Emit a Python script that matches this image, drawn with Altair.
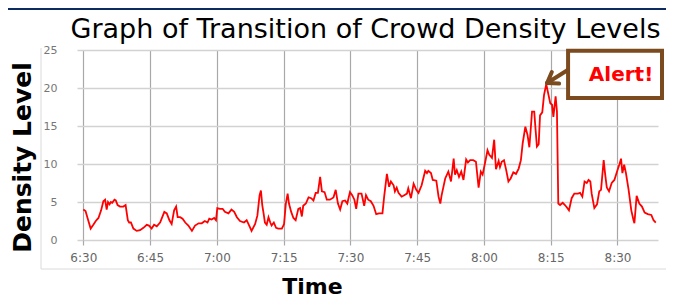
import altair as alt
import pandas as pd

# minutes after 6:30 and the density level
minutes = [0.0, 0.5, 1.0, 1.65, 2.25, 2.8, 3.4, 4.0, 4.5, 4.9, 5.25, 5.55, 5.9, 6.2, 6.5, 7.0, 7.3, 7.7, 8.25, 9.0,
           9.5, 10.0, 10.3, 10.7, 11.25, 12.0, 12.75, 13.5, 14.25, 14.75, 15.35, 15.9, 16.5, 17.25, 18.2, 18.75, 19.35, 19.85, 20.4, 20.85,
           21.2, 21.75, 22.3, 22.9, 23.6, 24.4, 25.1, 25.9, 26.6, 27.3, 27.9, 28.3, 28.8, 29.4, 29.8, 30.1, 30.7, 31.3, 31.8, 32.6,
           33.3, 33.9, 34.5, 35.2, 36.1, 36.7, 37.5, 37.8, 38.6, 39.1, 39.6, 39.9, 40.2, 40.5, 40.8, 41.2, 41.6, 42.0, 42.3, 42.8,
           43.3, 43.8, 44.6, 45.1, 45.5, 45.9, 46.2, 46.7, 47.2, 47.7, 48.3, 48.7, 49.1, 49.4, 50.0, 50.6, 51.2, 51.7, 52.2, 52.7,
           53.2, 53.6, 54.2, 54.7, 55.4, 56.2, 56.7, 57.2, 57.7, 58.2, 58.8, 59.3, 59.9, 60.4, 60.9, 61.3, 61.8, 62.5, 63.1, 63.5,
           64.0, 64.6, 65.2, 65.8, 66.4, 67.2, 67.6, 68.2, 68.7, 69.1, 69.7, 70.0, 70.4, 70.8, 71.5, 72.1, 72.7, 73.0, 73.6, 74.2,
           74.8, 75.3, 76.0, 76.8, 77.2, 77.5, 78.1, 78.5, 79.3, 79.8, 80.2, 80.5, 81.3, 82.0, 82.6, 83.2, 83.5, 83.9, 84.4, 84.9,
           85.4, 86.0, 86.4, 86.9, 87.6, 88.2, 88.8, 89.3, 89.7, 90.3, 90.8, 91.2, 91.8, 92.3, 92.7, 93.3, 93.6, 94.0, 94.5, 95.0,
           95.5, 96.0, 96.6, 97.2, 97.8, 98.3, 98.7, 99.3, 99.8, 100.2, 100.5, 100.8, 101.3, 101.6, 101.9, 102.3, 102.6, 103.1, 103.5, 104.0,
           104.5, 104.9, 105.3, 105.6, 106.1, 106.4, 106.7, 107.1, 107.7, 108.2, 108.6, 109.1, 109.7, 110.3, 111.1, 111.6, 112.1, 112.6, 113.1, 113.5,
           113.9, 114.2, 114.8, 115.4, 115.9, 116.3, 116.9, 117.2, 117.6, 118.1, 118.7, 119.3, 119.9, 120.4, 120.8, 121.1, 121.5, 121.9, 122.5, 123.1,
           123.6, 123.8, 124.3, 124.9, 125.5, 126.1, 126.8, 127.6, 128.1, 128.6]
density = [4.0, 3.8, 2.8, 1.5, 2.0, 2.5, 2.9, 3.9, 5.1, 5.3, 4.0, 5.0, 4.7, 5.0, 4.9, 5.3, 5.2, 4.6, 4.4, 4.4,
           4.6, 2.6, 2.3, 2.3, 1.5, 1.2, 1.3, 1.6, 2.0, 1.9, 1.5, 2.0, 1.8, 2.3, 3.7, 3.5, 2.6, 2.1, 3.9, 4.4,
           3.0, 3.0, 2.8, 2.3, 1.9, 1.2, 1.9, 2.2, 2.2, 2.5, 2.3, 2.8, 2.7, 2.9, 2.6, 4.2, 4.1, 4.1, 3.7, 3.5,
           4.0, 3.7, 3.0, 2.5, 2.3, 2.6, 1.6, 1.2, 2.1, 3.2, 5.9, 6.5, 4.6, 3.5, 2.3, 2.0, 3.0, 2.3, 1.9, 2.3,
           1.6, 1.5, 1.5, 2.1, 4.8, 6.1, 4.8, 3.7, 2.9, 2.6, 4.1, 4.2, 3.1, 4.5, 4.8, 5.6, 5.5, 5.2, 6.2, 6.2,
           8.3, 6.4, 6.3, 5.3, 5.3, 5.6, 6.6, 4.8, 4.0, 5.1, 5.2, 4.8, 6.3, 5.9, 5.3, 4.1, 6.1, 6.1, 4.5, 5.9,
           5.3, 5.1, 4.5, 3.4, 3.5, 3.5, 5.7, 8.7, 7.0, 7.7, 7.2, 6.4, 6.9, 6.2, 5.7, 5.9, 6.1, 6.8, 5.5, 7.4,
           6.6, 6.2, 7.2, 9.1, 8.8, 9.1, 8.8, 7.9, 7.8, 5.7, 4.8, 5.9, 8.1, 9.0, 7.7, 10.7, 8.6, 9.2, 8.3, 9.0,
           7.9, 10.6, 10.2, 10.5, 10.5, 10.3, 6.9, 9.0, 8.6, 10.3, 11.8, 11.2, 10.8, 13.2, 9.3, 10.4, 9.6, 10.3, 10.5, 9.2,
           7.7, 8.1, 8.9, 8.7, 9.4, 10.5, 12.7, 14.9, 13.8, 12.2, 14.5, 16.9, 16.9, 14.5, 12.3, 12.6, 16.4, 16.8, 19.1, 20.5,
           19.1, 18.0, 17.8, 16.2, 18.9, 16.9, 4.8, 4.6, 4.9, 4.6, 4.3, 3.9, 5.5, 6.1, 6.1, 6.2, 5.7, 7.7, 7.5, 7.9,
           7.7, 6.1, 4.2, 4.7, 6.4, 6.6, 10.5, 8.8, 6.9, 6.4, 7.5, 7.9, 9.0, 9.9, 10.7, 8.8, 9.9, 8.8, 6.6, 3.9,
           2.6, 2.2, 5.8, 4.8, 4.4, 3.6, 3.4, 3.3, 2.6, 2.3]

start_time = "6:30"
tick_times = ["6:30", "6:45", "7:00", "7:15", "7:30", "7:45", "8:00", "8:15", "8:30"]
y_ticks = [0, 5, 10, 15, 20, 25]
x_domain = ["6:28:35", "8:39:06"]

chart_title = "Graph of Transition of Crowd Density Levels"
x_title = "Time"
y_title = "Density Level"

alert_label = "Alert!"
alert_box_times = ["8:18:54", "8:40:00"]
alert_box_levels = [18.7, 24.9]
alert_text_time = "8:30:48"
alert_text_level = 21.7
arrow_from_times = ["8:18:55", "8:14:11", "8:14:11"]
arrow_from_levels = [22.4, 20.66, 20.66]
arrow_to_times = ["8:14:11", "8:16:53", "8:15:15"]
arrow_to_levels = [20.66, 20.58, 22.11]

DAY = (2024, 1, 1)
W, H = 581, 190


def hms(s):
    p = [int(v) for v in s.split(":")]
    while len(p) < 3:
        p.append(0)
    return p


def iso(s):
    h, m, sec = hms(s)
    return f"{DAY[0]:04d}-{DAY[1]:02d}-{DAY[2]:02d}T{h:02d}:{m:02d}:{sec:02d}"


def dt(s):
    h, m, sec = hms(s)
    return alt.DateTime(year=DAY[0], month=DAY[1], date=DAY[2], hours=h, minutes=m, seconds=sec)


base = pd.Timestamp(iso(start_time))
df = pd.DataFrame({
    "time": [(base + pd.Timedelta(minutes=m)).strftime("%Y-%m-%dT%H:%M:%S") for m in minutes],
    "density": density,
})

FONT = "DejaVu Sans"
BROWN = "#7b4a1e"

x_scale = alt.Scale(domain=[dt(x_domain[0]), dt(x_domain[1])], nice=False)
y_scale = alt.Scale(domain=[0, 25], nice=False)

x_axis = alt.Axis(
    values=[dt(t) for t in tick_times], format="%-H:%M",
    labelFont=FONT, labelFontSize=12, labelColor="#666666", labelPadding=7,
    grid=True, gridColor="#a8a8a8", gridWidth=1.2,
    domain=False, ticks=True, tickSize=5, tickColor="#a8a8a8", tickWidth=1.2,
    title=x_title, titleFont=FONT, titleFontSize=22, titleFontWeight="bold", titleColor="black",
    titleX=235, titleY=53, titleBaseline="alphabetic", titleAlign="center",
)
y_axis = alt.Axis(
    values=y_ticks, labelFont=FONT, labelFontSize=11, labelColor="#777777", labelPadding=20,
    grid=True, gridColor="#d2d2d2", gridWidth=1.6,
    domain=False, ticks=False,
    title=y_title, titleFont=FONT, titleFontSize=25, titleFontWeight="bold", titleColor="black",
    titleX=-55, titleY=107, titleAngle=270, titleBaseline="middle", titleAlign="center",
)

X = alt.X("time:T", scale=x_scale, axis=x_axis)
Y = alt.Y("density:Q", scale=y_scale, axis=y_axis)

line = alt.Chart(df).mark_line(color="#ff0000", strokeWidth=1.8, clip=True).encode(x=X, y=Y)

arrow_df = pd.DataFrame({
    "time": [iso(t) for t in arrow_from_times], "density": arrow_from_levels,
    "time2": [iso(t) for t in arrow_to_times], "density2": arrow_to_levels,
})
arrow = alt.Chart(arrow_df).mark_rule(color=BROWN, strokeWidth=4, strokeCap="round").encode(
    x=X, y=Y, x2="time2:T", y2="density2:Q")

box_df = pd.DataFrame({
    "time": [iso(alert_box_times[0])], "time2": [iso(alert_box_times[1])],
    "density": [alert_box_levels[0]], "density2": [alert_box_levels[1]],
})
box = alt.Chart(box_df).mark_rect(fill="white", stroke=BROWN, strokeWidth=4, clip=False).encode(
    x=X, x2="time2:T", y=Y, y2="density2:Q")

text_df = pd.DataFrame({"time": [iso(alert_text_time)], "density": [alert_text_level], "label": [alert_label]})
text = alt.Chart(text_df).mark_text(font=FONT, fontSize=20, fontWeight="bold", color="#ff0000",
                                    align="center", baseline="middle").encode(x=X, y=Y, text="label:N")

single = pd.DataFrame({"label": [chart_title]})
band = alt.Chart(single).mark_rect(color="#0b2b61").encode(
    x=alt.value(-69), x2=alt.value(589), y=alt.value(-42), y2=alt.value(-40))
frame_v = alt.Chart(single).mark_rule(color="#dadada", strokeWidth=1).encode(
    x=alt.value(-36), y=alt.value(-2), y2=alt.value(219))
frame_h = alt.Chart(single).mark_rule(color="#dadada", strokeWidth=1).encode(
    x=alt.value(-36), x2=alt.value(589), y=alt.value(219))
title = alt.Chart(single).mark_text(font=FONT, fontSize=27, color="black", align="center",
                                    baseline="alphabetic").encode(
    x=alt.value(W / 2 - 2), y=alt.value(-12), text="label:N")

chart = alt.layer(band, frame_v, frame_h, title, line, arrow, box, text).properties(
    width=W, height=H,
    padding={"left": 69, "top": 42, "right": 8, "bottom": 57},
    autosize=alt.AutoSizeParams(type="none"),
    background="white",
).configure_view(stroke=None)

chart.save("out.html", embed_options={"renderer": "svg", "actions": False})
